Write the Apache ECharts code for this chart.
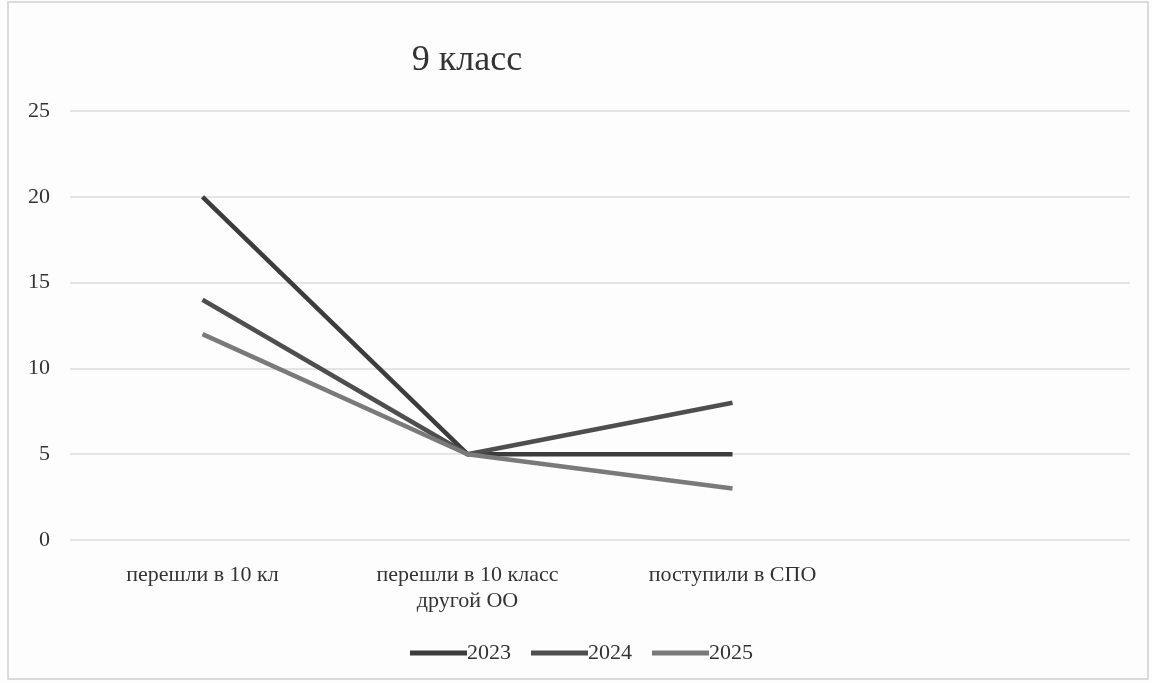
<!DOCTYPE html>
<html><head><meta charset="utf-8">
<script src="https://cdn.jsdelivr.net/npm/echarts@6/dist/echarts.min.js"></script>
<style>html,body{margin:0;padding:0;background:#fff;}#c{width:1152px;height:683px;}</style>
</head><body><div id="c"></div>
<script>
const categories = ['перешли в 10 кл', 'перешли в 10 класс\nдругой ОО', 'поступили в СПО', ''];
const seriesNames = ['2023', '2024', '2025'];
const values2023 = [20, 5, 5];
const values2024 = [14, 5, 8];
const values2025 = [12, 5, 3];
const yTicks = [0, 5, 10, 15, 20, 25];
const colors = ['#3c3c3c', '#4e4e4e', '#7a7a7a'];
const font = 'Liberation Serif, Times New Roman, serif';
const chart = echarts.init(document.getElementById('c'));
const dataSets = [values2023, values2024, values2025];
chart.setOption({
  backgroundColor: '#fdfdfd',
  animation: false,
  title: { text: '9 класс', left: 462, top: 38, textAlign: 'center',
    textStyle: { fontFamily: font, fontSize: 36, fontWeight: 'normal', color: '#333' } },
  legend: { top: 637, left: 405, itemWidth: 57, itemHeight: 5, itemGap: 20,
    data: seriesNames.map((n, i) => ({ name: n, icon: 'rect' })),
    textStyle: { fontFamily: font, fontSize: 22, color: '#333', padding: [0, 0, 0, -5] } },
  grid: { left: 70, right: 22, top: 111, bottom: 143 },
  xAxis: { type: 'category', data: categories, boundaryGap: true,
    axisLine: { show: false }, axisTick: { show: false },
    axisLabel: { fontFamily: font, fontSize: 22, color: '#333', margin: 22, lineHeight: 26, interval: 0 } },
  yAxis: { type: 'value', min: yTicks[0], max: yTicks[yTicks.length - 1], interval: 5,
    axisLine: { show: false }, axisTick: { show: false },
    axisLabel: { fontFamily: font, fontSize: 22, color: '#333', margin: 20 },
    splitLine: { lineStyle: { color: '#e4e4e4', width: 2 } } },
  series: seriesNames.map((n, i) => ({
    name: n, type: 'line', data: dataSets[i], symbol: 'none',
    lineStyle: { width: 4.5, color: colors[i] }, itemStyle: { color: colors[i] }
  })),
  graphic: [{ type: 'rect', shape: { x: 8, y: 2, width: 1140, height: 677 },
    style: { fill: 'none', stroke: '#d0d0d0', lineWidth: 1.5 }, silent: true }]
});
</script></body></html>
